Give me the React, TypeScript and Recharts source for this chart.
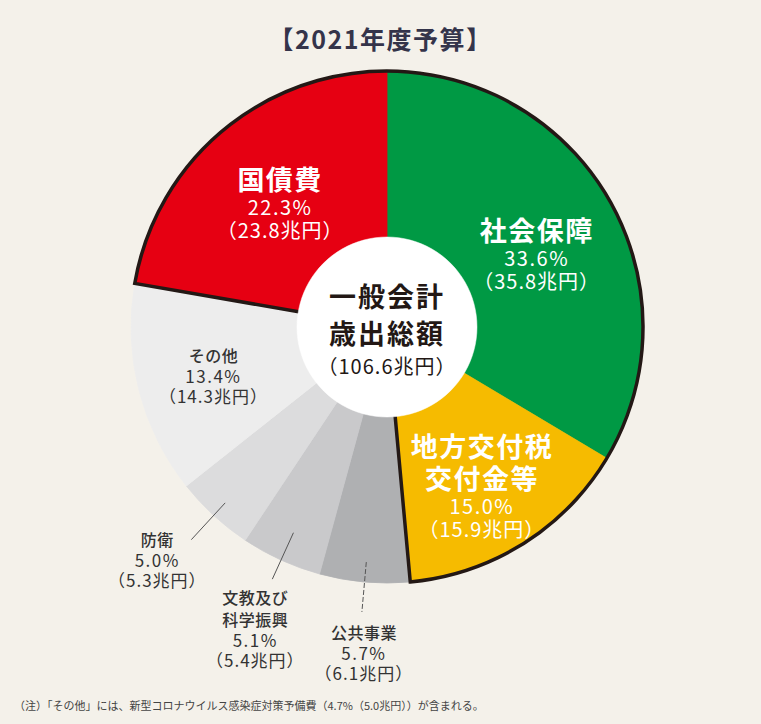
import React from 'react';
import { PieChart, Pie, Cell } from 'recharts';

const fiscalYear = '2021';
const totalAmount = 106.6;
const categories = ['社会保障', '地方交付税交付金等', '公共事業', '文教及び科学振興', '防衛', 'その他', '国債費'];
const titleLines = [['社会保障'], ['地方交付税', '交付金等'], ['公共事業'], ['文教及び', '科学振興'], ['防衛'], ['その他'], ['国債費']];
const shares = [33.6, 15.0, 5.7, 5.1, 5.0, 13.4, 22.3];
const amounts = [35.8, 15.9, 6.1, 5.4, 5.3, 14.3, 23.8];
const reserveShare = 4.7;
const reserveAmount = 5.0;
// slices enclosed by the dark outline (contiguous group: 国債費 → 社会保障 → 地方交付税交付金等)
const outlined = [true, true, false, false, false, false, true];

const data = categories.map((name, i) => ({ name, value: shares[i], amount: amounts[i] }));

// styles (kept separate from data)
const COLORS = ['#009944', '#F6BB00', '#AFB0B2', '#C9C9CB', '#DCDCDD', '#EDEDED', '#E60012'];
const MAJOR = [true, true, false, false, false, false, true];
const LAYOUT = [
  { r: 179, dx: -6, dy: -10 },
  { r: 150, dx: 15, dy: -9 },
  { r: 286, dx: 2, dy: 20, l0: 236, l1: 286, dash: '5 2' },
  { r: 277, dx: -17, dy: 18, l0: 226, l1: 277 },
  { r: 289, dx: -34, dy: -1, l0: 239, l1: 289 },
  { r: 175, dx: -4, dy: -15 },
  { r: 183, dx: 11, dy: -9 },
];

const W = 761;
const H = 724;
const CX = 387;
const CY = 327;
const R = 256;
const INNER = 90;
const RAD = Math.PI / 180;
const FONT = "'Noto Sans CJK JP', 'Noto Sans', sans-serif";

const total = shares.reduce((a, b) => a + b, 0);
const groupIn = shares.reduce((a, v, i) => a + (outlined[i] ? v : 0), 0);
const groupOut = total - groupIn;
const lastShare = shares[shares.length - 1];
const outlineStart = 90 + (lastShare / total) * 360;
const outlineData = [
  { name: 'in', value: groupIn },
  { name: 'out', value: groupOut },
];
const centerData = [{ name: 'center', value: 1 }];

const polar = (cx: number, cy: number, r: number, a: number) => ({
  x: cx + r * Math.cos(-a * RAD),
  y: cy + r * Math.sin(-a * RAD),
});

const renderLabel = (props: any) => {
  const { cx, cy, midAngle, index } = props;
  const L: any = LAYOUT[index];
  const p = polar(cx, cy, L.r, midAngle);
  const x = p.x + L.dx;
  const y0 = p.y + L.dy;
  const major = MAJOR[index];
  const lines = titleLines[index];
  const color = major ? '#FFFFFF' : '#333333';
  const tLH = major ? 32 : 22;
  const pctGap = major ? 28 : 20;
  const amtGap = major ? 23 : 20;
  let lineEl = null;
  if (L.l0) {
    const a = polar(cx, cy, L.l0, midAngle);
    const b = polar(cx, cy, L.l1, midAngle);
    lineEl = (
      <line x1={a.x} y1={a.y} x2={b.x} y2={b.y} stroke="#555" strokeWidth={1} strokeDasharray={L.dash} />
    );
  }
  const numSize = major ? 20 : 17;
  return (
    <g key={`lbl-${index}`}>
      {lineEl}
      <text x={x} y={y0} textAnchor="middle" dominantBaseline="central" fill={color} fontFamily={FONT}>
        {lines.map((t, k) => (
          <tspan key={k} x={x} dy={k === 0 ? 0 : tLH} fontWeight={major ? 700 : 500}
            fontSize={major ? 27 : 16} letterSpacing={major ? 1.5 : 0.5}>
            {t}
          </tspan>
        ))}
        <tspan x={x} dy={pctGap} fontSize={numSize} letterSpacing={1.5}>
          {`${shares[index].toFixed(1)}%`}
        </tspan>
        <tspan x={x} dy={amtGap} fontSize={numSize} letterSpacing={1}>
          {`（${amounts[index].toFixed(1)}兆円）`}
        </tspan>
      </text>
    </g>
  );
};

const renderCenter = (props: any) => {
  const { cx, cy } = props;
  return (
    <g key="center-lbl">
      <text x={cx} y={cy - 32} textAnchor="middle" dominantBaseline="central" fill="#231815" fontFamily={FONT}>
        <tspan x={cx} dy={0} fontWeight={700} fontSize={27} letterSpacing={2}>一般会計</tspan>
        <tspan x={cx} dy={37} fontWeight={700} fontSize={27} letterSpacing={2}>歳出総額</tspan>
        <tspan x={cx} dy={33} fontSize={20} letterSpacing={1}>{`（${totalAmount.toFixed(1)}兆円）`}</tspan>
      </text>
    </g>
  );
};

export default function App() {
  return (
    <div style={{ position: 'absolute', left: 0, top: 0, width: W, height: H, background: '#F4F1EA', overflow: 'hidden' }}>
      <div style={{ position: 'absolute', left: 0, top: 22, width: W, textAlign: 'center', fontFamily: FONT, fontWeight: 700,
        fontSize: 25, color: '#34344A', letterSpacing: 1.5, lineHeight: '32px' }}>
        {`【${fiscalYear}年度予算】`}
      </div>
      <div style={{ position: 'absolute', left: 0, top: 0 }}>
        <PieChart width={W} height={H} margin={{ top: 0, right: 0, bottom: 0, left: 0 }}>
          <Pie data={data} dataKey="value" cx={CX} cy={CY} startAngle={90} endAngle={-270} innerRadius={0}
            outerRadius={R} isAnimationActive={false} labelLine={false} label={false}>
            {data.map((d, i) => (
              <Cell key={i} fill={COLORS[i]} stroke={COLORS[i]} strokeWidth={0.8} />
            ))}
          </Pie>
          <Pie data={outlineData} dataKey="value" cx={CX} cy={CY} startAngle={outlineStart} endAngle={outlineStart - 360}
            innerRadius={84} outerRadius={R} isAnimationActive={false} labelLine={false} label={false}>
            <Cell fill="none" stroke="#231815" strokeWidth={3.5} />
            <Cell fill="none" stroke="none" strokeWidth={0} />
          </Pie>
          <Pie data={centerData} dataKey="value" cx={CX} cy={CY} startAngle={90} endAngle={-270} innerRadius={0}
            outerRadius={INNER} isAnimationActive={false} labelLine={false} label={renderCenter}>
            <Cell fill="#FFFFFF" stroke="#FFFFFF" strokeWidth={0.5} />
          </Pie>
          <Pie data={data} dataKey="value" cx={CX} cy={CY} startAngle={90} endAngle={-270} innerRadius={0}
            outerRadius={R} isAnimationActive={false} labelLine={false} label={renderLabel}>
            {data.map((d, i) => (
              <Cell key={i} fill="none" stroke="none" strokeWidth={0} />
            ))}
          </Pie>
        </PieChart>
      </div>
      <div style={{ position: 'absolute', left: 14, top: 697, fontFamily: FONT, fontSize: 11, color: '#444',
        whiteSpace: 'nowrap', lineHeight: '16px' }}>
        {`（注）「その他」には、新型コロナウイルス感染症対策予備費（${reserveShare.toFixed(1)}%（${reserveAmount.toFixed(1)}兆円））が含まれる。`}
      </div>
    </div>
  );
}
